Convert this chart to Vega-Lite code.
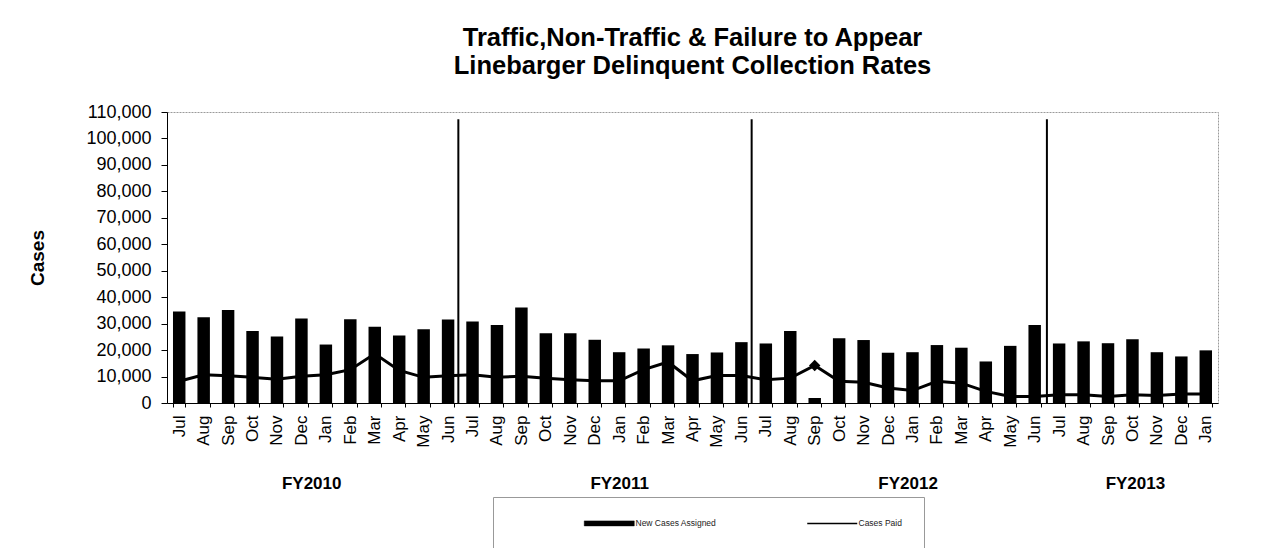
{
  "$schema": "https://vega.github.io/schema/vega-lite/v6.json",
  "width": 1051,
  "height": 291,
  "autosize": {"type": "none"},
  "padding": {"left": 167, "top": 112, "right": 49, "bottom": 145},
  "background": "white",
  "config": {
    "font": "Liberation Sans",
    "view": {"stroke": "#9a9a9a", "strokeDash": [2, 1]}
  },
  "title": {
    "text": ["Traffic,Non-Traffic & Failure to Appear", "Linebarger Delinquent Collection Rates"],
    "fontSize": 25.5,
    "fontWeight": "bold",
    "font": "Liberation Sans",
    "color": "black",
    "anchor": "middle",
    "lineHeight": 28,
    "offset": 24
  },
  "datasets": {
    "months": [
      {"key": "FY2010 Jul", "assigned": 34600, "paid": 8200},
      {"key": "FY2010 Aug", "assigned": 32400, "paid": 10700},
      {"key": "FY2010 Sep", "assigned": 35200, "paid": 10300},
      {"key": "FY2010 Oct", "assigned": 27200, "paid": 9700},
      {"key": "FY2010 Nov", "assigned": 25100, "paid": 9000},
      {"key": "FY2010 Dec", "assigned": 31900, "paid": 10100},
      {"key": "FY2010 Jan", "assigned": 22100, "paid": 10700},
      {"key": "FY2010 Feb", "assigned": 31700, "paid": 12600},
      {"key": "FY2010 Mar", "assigned": 28800, "paid": 18600},
      {"key": "FY2010 Apr", "assigned": 25500, "paid": 12300},
      {"key": "FY2010 May", "assigned": 27900, "paid": 9700},
      {"key": "FY2010 Jun", "assigned": 31600, "paid": 10300},
      {"key": "FY2011 Jul", "assigned": 30800, "paid": 10700},
      {"key": "FY2011 Aug", "assigned": 29500, "paid": 9700},
      {"key": "FY2011 Sep", "assigned": 36100, "paid": 10100},
      {"key": "FY2011 Oct", "assigned": 26400, "paid": 9400},
      {"key": "FY2011 Nov", "assigned": 26400, "paid": 8800},
      {"key": "FY2011 Dec", "assigned": 23900, "paid": 8400},
      {"key": "FY2011 Jan", "assigned": 19200, "paid": 8400},
      {"key": "FY2011 Feb", "assigned": 20600, "paid": 12600},
      {"key": "FY2011 Mar", "assigned": 21800, "paid": 15500},
      {"key": "FY2011 Apr", "assigned": 18500, "paid": 8400},
      {"key": "FY2011 May", "assigned": 19100, "paid": 10400},
      {"key": "FY2011 Jun", "assigned": 23000, "paid": 10400},
      {"key": "FY2012 Jul", "assigned": 22500, "paid": 8800},
      {"key": "FY2012 Aug", "assigned": 27200, "paid": 9400},
      {"key": "FY2012 Sep", "assigned": 1900, "paid": 14200},
      {"key": "FY2012 Oct", "assigned": 24500, "paid": 8200},
      {"key": "FY2012 Nov", "assigned": 23800, "paid": 7800},
      {"key": "FY2012 Dec", "assigned": 19000, "paid": 5700},
      {"key": "FY2012 Jan", "assigned": 19200, "paid": 4700},
      {"key": "FY2012 Feb", "assigned": 21900, "paid": 8200},
      {"key": "FY2012 Mar", "assigned": 20900, "paid": 7500},
      {"key": "FY2012 Apr", "assigned": 15700, "paid": 4400},
      {"key": "FY2012 May", "assigned": 21600, "paid": 2500},
      {"key": "FY2012 Jun", "assigned": 29500, "paid": 2500},
      {"key": "FY2013 Jul", "assigned": 22500, "paid": 3100},
      {"key": "FY2013 Aug", "assigned": 23300, "paid": 3100},
      {"key": "FY2013 Sep", "assigned": 22600, "paid": 2500},
      {"key": "FY2013 Oct", "assigned": 24100, "paid": 3100},
      {"key": "FY2013 Nov", "assigned": 19200, "paid": 2800},
      {"key": "FY2013 Dec", "assigned": 17600, "paid": 3400},
      {"key": "FY2013 Jan", "assigned": 19900, "paid": 3400}
    ],
    "separators": [
      {"pos": 11.92, "top": 107300},
      {"pos": 23.92, "top": 107300},
      {"pos": 36.0, "top": 107300}
    ]
  },
  "layer": [
    {
      "data": {"name": "months"},
      "encoding": {
        "x": {
          "field": "key",
          "type": "nominal",
          "sort": null,
          "scale": {"paddingInner": 0.49, "paddingOuter": 0.245},
          "axis": {
            "title": null,
            "labelExpr": "split(datum.label, ' ')[1]",
            "labelAngle": 270,
            "labelFontSize": 17,
            "labelColor": "black",
            "labelPadding": 8,
            "tickBand": "extent",
            "tickSize": 4,
            "tickColor": "black",
            "domainColor": "black",
            "labelOverlap": false
          }
        }
      },
      "layer": [
        {
          "mark": {"type": "bar", "color": "black"},
          "encoding": {
            "y": {
              "field": "assigned",
              "type": "quantitative",
              "scale": {"domain": [0, 110000], "nice": false},
              "axis": {
                "title": "Cases",
                "titleFontSize": 19,
                "titleFontWeight": "bold",
                "titleColor": "black",
                "titlePadding": 38,
                "values": [0, 10000, 20000, 30000, 40000, 50000, 60000, 70000, 80000, 90000, 100000, 110000],
                "tickCount": 12,
                "format": ",d",
                "labelFontSize": 18,
                "labelColor": "black",
                "labelPadding": 10,
                "labelOverlap": false,
                "labelFlush": false,
                "tickSize": 6,
                "tickColor": "black",
                "domainColor": "black",
                "grid": false
              }
            },
            "color": {
              "datum": "New Cases Assigned",
              "scale": {"domain": ["New Cases Assigned", "Cases Paid"], "range": ["black", "black"]},
              "legend": {
                "title": null,
                "orient": "none",
                "legendX": 326,
                "legendY": 385,
                "direction": "horizontal",
                "strokeColor": "#999999",
                "padding": 22,
                "labelFontSize": 8.5,
                "labelColor": "#222222",
                "symbolSize": 100,
                "symbolOffset": 90,
                "labelOffset": 22,
                "columnPadding": 21,
                "encode": {
                  "symbols": {
                    "update": {
                      "shape": {"signal": "datum.value === 'Cases Paid' ? 'M-5,0H5' : 'M-5,-0.5H5V0.5H-5Z'"},
                      "fill": {"signal": "datum.value === 'Cases Paid' ? 'transparent' : 'black'"},
                      "stroke": {"value": "black"},
                      "strokeWidth": {"signal": "datum.value === 'Cases Paid' ? 1.5 : 0.5"},
                      "opacity": {"value": 1}
                    }
                  }
                }
              }
            }
          }
        },
        {
          "mark": {"type": "line", "color": "black", "strokeWidth": 3},
          "encoding": {
            "y": {"field": "paid", "type": "quantitative"},
            "color": {"datum": "Cases Paid"}
          }
        },
        {
          "transform": [{"filter": "datum.key === 'FY2012 Sep'"}],
          "mark": {"type": "point", "shape": "diamond", "filled": true, "color": "black", "size": 130, "opacity": 1},
          "encoding": {
            "y": {"field": "paid", "type": "quantitative"}
          }
        }
      ]
    },
    {
      "data": {"name": "separators"},
      "mark": {"type": "rule", "color": "black", "strokeWidth": 2},
      "encoding": {
        "x": {
          "field": "pos",
          "type": "quantitative",
          "scale": {"domain": [0, 43], "nice": false, "zero": false},
          "axis": {
            "orient": "bottom",
            "offset": 72,
            "title": null,
            "values": [5.9, 18.5, 30.3, 39.6],
            "labelExpr": "datum.value < 10 ? 'FY2010' : datum.value < 25 ? 'FY2011' : datum.value < 35 ? 'FY2012' : 'FY2013'",
            "labelFontSize": 17,
            "labelFontWeight": "bold",
            "labelColor": "black",
            "labelBaseline": "top",
            "labelPadding": 0,
            "labelFlush": false,
            "labelOverlap": false,
            "domain": false,
            "ticks": false,
            "grid": false
          }
        },
        "y": {
          "field": "top",
          "type": "quantitative",
          "axis": {
            "title": "Cases",
            "titleFontSize": 19,
            "titleFontWeight": "bold",
            "titleColor": "black",
            "titlePadding": 38,
            "values": [0, 10000, 20000, 30000, 40000, 50000, 60000, 70000, 80000, 90000, 100000, 110000],
            "tickCount": 12,
            "format": ",d",
            "labelFontSize": 18,
            "labelColor": "black",
            "labelPadding": 10,
            "labelOverlap": false,
            "labelFlush": false,
            "tickSize": 6,
            "tickColor": "black",
            "domainColor": "black",
            "grid": false
          }
        },
        "y2": {"datum": 0}
      }
    }
  ],
  "resolve": {"scale": {"x": "independent"}, "axis": {"x": "independent"}}
}
